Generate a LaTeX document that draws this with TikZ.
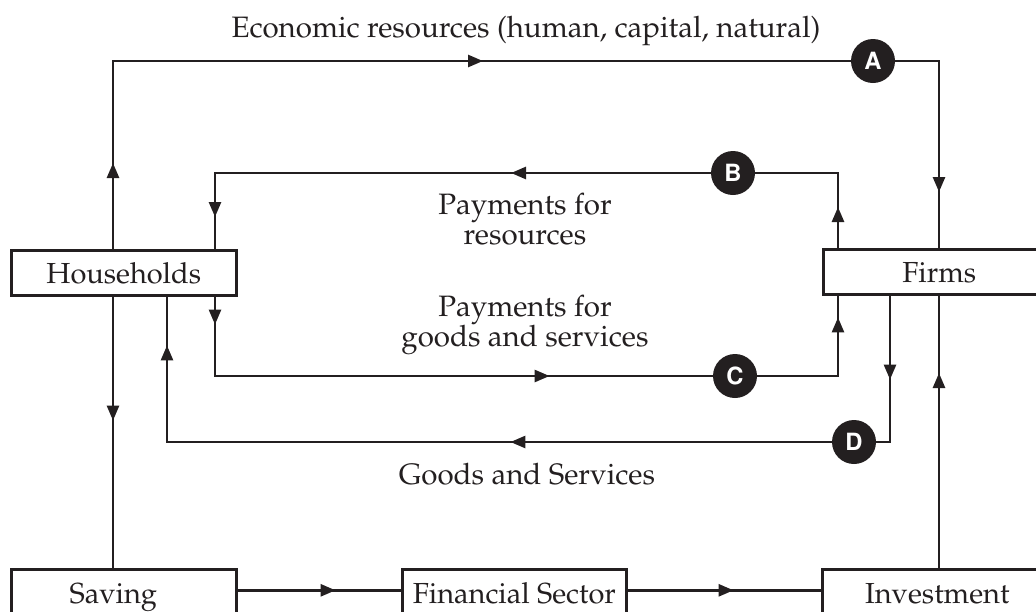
\documentclass[tikz,border=0pt]{standalone}
\usepackage[T1]{fontenc}
\usepackage{mathpazo}
\usepackage[scaled=0.95]{helvet}
\usetikzlibrary{arrows.meta,decorations.markings,calc}
\definecolor{ink}{HTML}{231F20}
\tikzset{
  flow/.style={draw=ink, line width=2.6pt, line join=miter},
  mark tip/.style={postaction={decorate, decoration={markings,
      mark=at position #1 with {\arrow[ink]{Triangle[length=15pt,width=12pt]}}}}},
  box/.style={draw=ink, line width=2.6pt, fill=white, rectangle, inner sep=0pt,
      minimum height=45pt, text height=21pt, text depth=0pt, text=ink,
      font=\fontsize{29}{34}\selectfont, anchor=north west},
  badge/.style={circle, fill=ink, minimum size=44pt, inner sep=0pt, text=white,
      font=\fontsize{25}{25}\selectfont\sffamily\bfseries},
  caption/.style={font=\fontsize{29.5}{30}\selectfont, text=ink, align=center, inner sep=0pt}
}
\begin{document}
\begin{tikzpicture}[x=1pt,y=-1pt]
\clip (0,0) rectangle (1036,611);

% sector boxes
\node[box, minimum width=225pt] (hh) at (10,249) {Households};
\node[box, minimum width=232pt] (firms) at (822,248) {Firms};
\node[box, minimum width=225pt, minimum height=48pt] (saving) at (10,568) {\hspace*{-21pt}Saving};
\node[box, minimum width=224pt, minimum height=48pt] (fin) at (401,568) {Financial Sector};
\node[box, minimum width=230pt, minimum height=48pt] (inv) at (821,568) {Investment};

% columns and rows of the flow lines
\coordinate (xH1) at (113,0);
\coordinate (xH2) at (167,0);
\coordinate (xH3) at (215,0);
\coordinate (xF1) at (838,0);
\coordinate (xF2) at (890,0);
\coordinate (xF3) at (939,0);
\coordinate (yA) at (0,61);
\coordinate (yB) at (0,173);
\coordinate (yC) at (0,376);
\coordinate (yD) at (0,442);

% A: resources from households to firms
\draw[flow, mark tip=86pt, mark tip=558pt, mark tip=1145pt]
  (hh.north -| xH1) -- (xH1 |- yA) -- (xF3 |- yA) -- (firms.north -| xF3);
% B: payments for resources
\draw[flow, mark tip=41pt, mark tip=402pt, mark tip=742pt]
  (firms.north -| xF1) -- (xF1 |- yB) -- (xH3 |- yB) -- (hh.north -| xH3);
% C: payments for goods and services
\draw[flow, mark tip=28pt, mark tip=414pt, mark tip=761pt]
  (hh.south -| xH3) -- (xH3 |- yC) -- (xF1 |- yC) -- (firms.south -| xF1);
% D: goods and services
\draw[flow, mark tip=84pt, mark tip=526pt, mark tip=966pt]
  (firms.south -| xF2) -- (xF2 |- yD) -- (xH2 |- yD) -- (hh.south -| xH2);
% saving and investment
\draw[flow, mark tip=124pt] (hh.south -| xH1) -- (saving.north -| xH1);
\draw[flow, mark tip=195pt] (inv.north -| xF3) -- (firms.south -| xF3);
\draw[flow, mark tip=98pt] ([yshift=3pt]saving.east) -- ([yshift=3pt]fin.west);
\draw[flow, mark tip=106pt] ([yshift=3pt]fin.east) -- ([yshift=3pt]inv.west);

% badges
\node[badge] (A) at (873,61) {A};
\node[badge] (B) at (733,173) {B};
\node[badge] (C) at (735,376) {C};
\node[badge] (D) at (854,442) {D};

% captions (base anchor sits on the last line)
\node[caption, anchor=base] (t1) at (526,37) {Economic resources (human, capital, natural)};
\node[caption, anchor=base] (t2) at (525,244) {Payments for\\resources};
\node[caption, anchor=base] (t3) at (525,346) {Payments for\\goods and services};
\node[caption, anchor=base] (t4) at (527,484) {Goods and Services};
\end{tikzpicture}
\end{document}
